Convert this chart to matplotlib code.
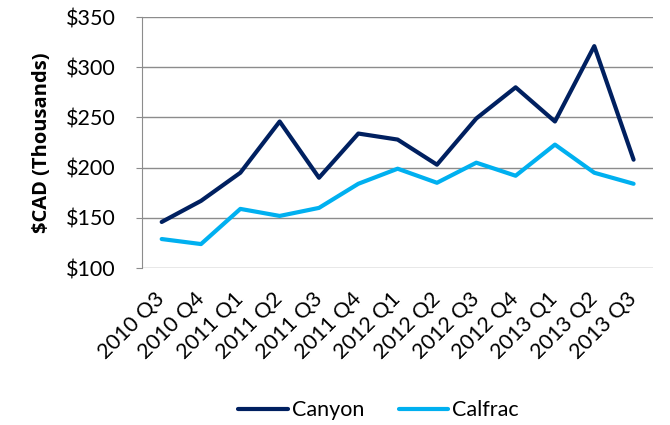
import matplotlib
matplotlib.use("Agg")
import matplotlib.pyplot as plt
from matplotlib.ticker import FuncFormatter

quarters = ["2010 Q3", "2010 Q4", "2011 Q1", "2011 Q2", "2011 Q3", "2011 Q4", "2012 Q1",
            "2012 Q2", "2012 Q3", "2012 Q4", "2013 Q1", "2013 Q2", "2013 Q3"]
canyon = [146, 167, 195, 246, 190, 234, 228, 203, 249, 280, 246, 321, 208]
calfrac = [129, 124, 159, 152, 160, 184, 199, 185, 205, 192, 223, 195, 184]

plt.rcParams['font.family'] = ['Lato', 'DejaVu Sans']

fig = plt.figure(figsize=(6.7, 4.25), dpi=100)
ax = fig.add_axes([0.212, 0.369, 0.763, 0.591])

x = list(range(len(quarters)))
ax.plot(x, canyon, color="#002060", lw=3.0, label="Canyon", solid_capstyle="round")
ax.plot(x, calfrac, color="#00B0F0", lw=3.0, label="Calfrac", solid_capstyle="round")

ax.set_ylim(100, 350)
ax.set_yticks([100, 150, 200, 250, 300, 350])
ax.yaxis.set_major_formatter(FuncFormatter(lambda v, p: f"${int(v)}"))
ax.set_xlim(-0.5, len(quarters) - 0.5)
ax.set_xticks(x)
ax.set_xticklabels(quarters, rotation=45, ha="right", va="center", rotation_mode="anchor")

ax.grid(axis="y", color="#8c8c8c", lw=1.0)
ax.set_axisbelow(True)
for s in ["top", "right", "bottom"]:
    ax.spines[s].set_visible(False)
ax.spines["left"].set_color("#8c8c8c")
ax.tick_params(axis="y", length=4, color="#8c8c8c", labelsize=15.5, pad=15)
ax.tick_params(axis="x", length=0, labelsize=15.5, pad=20)

ax.set_ylabel("$CAD (Thousands)", fontsize=14.5, fontweight="bold", labelpad=10,
              family=["Open Sans", "DejaVu Sans"])

fig.legend(loc="lower center", bbox_to_anchor=(0.565, -0.035), ncol=2, frameon=False,
           fontsize=15.5, handlelength=2.3, handletextpad=0.2, columnspacing=1.6)

fig.savefig("out.png", dpi=100)
